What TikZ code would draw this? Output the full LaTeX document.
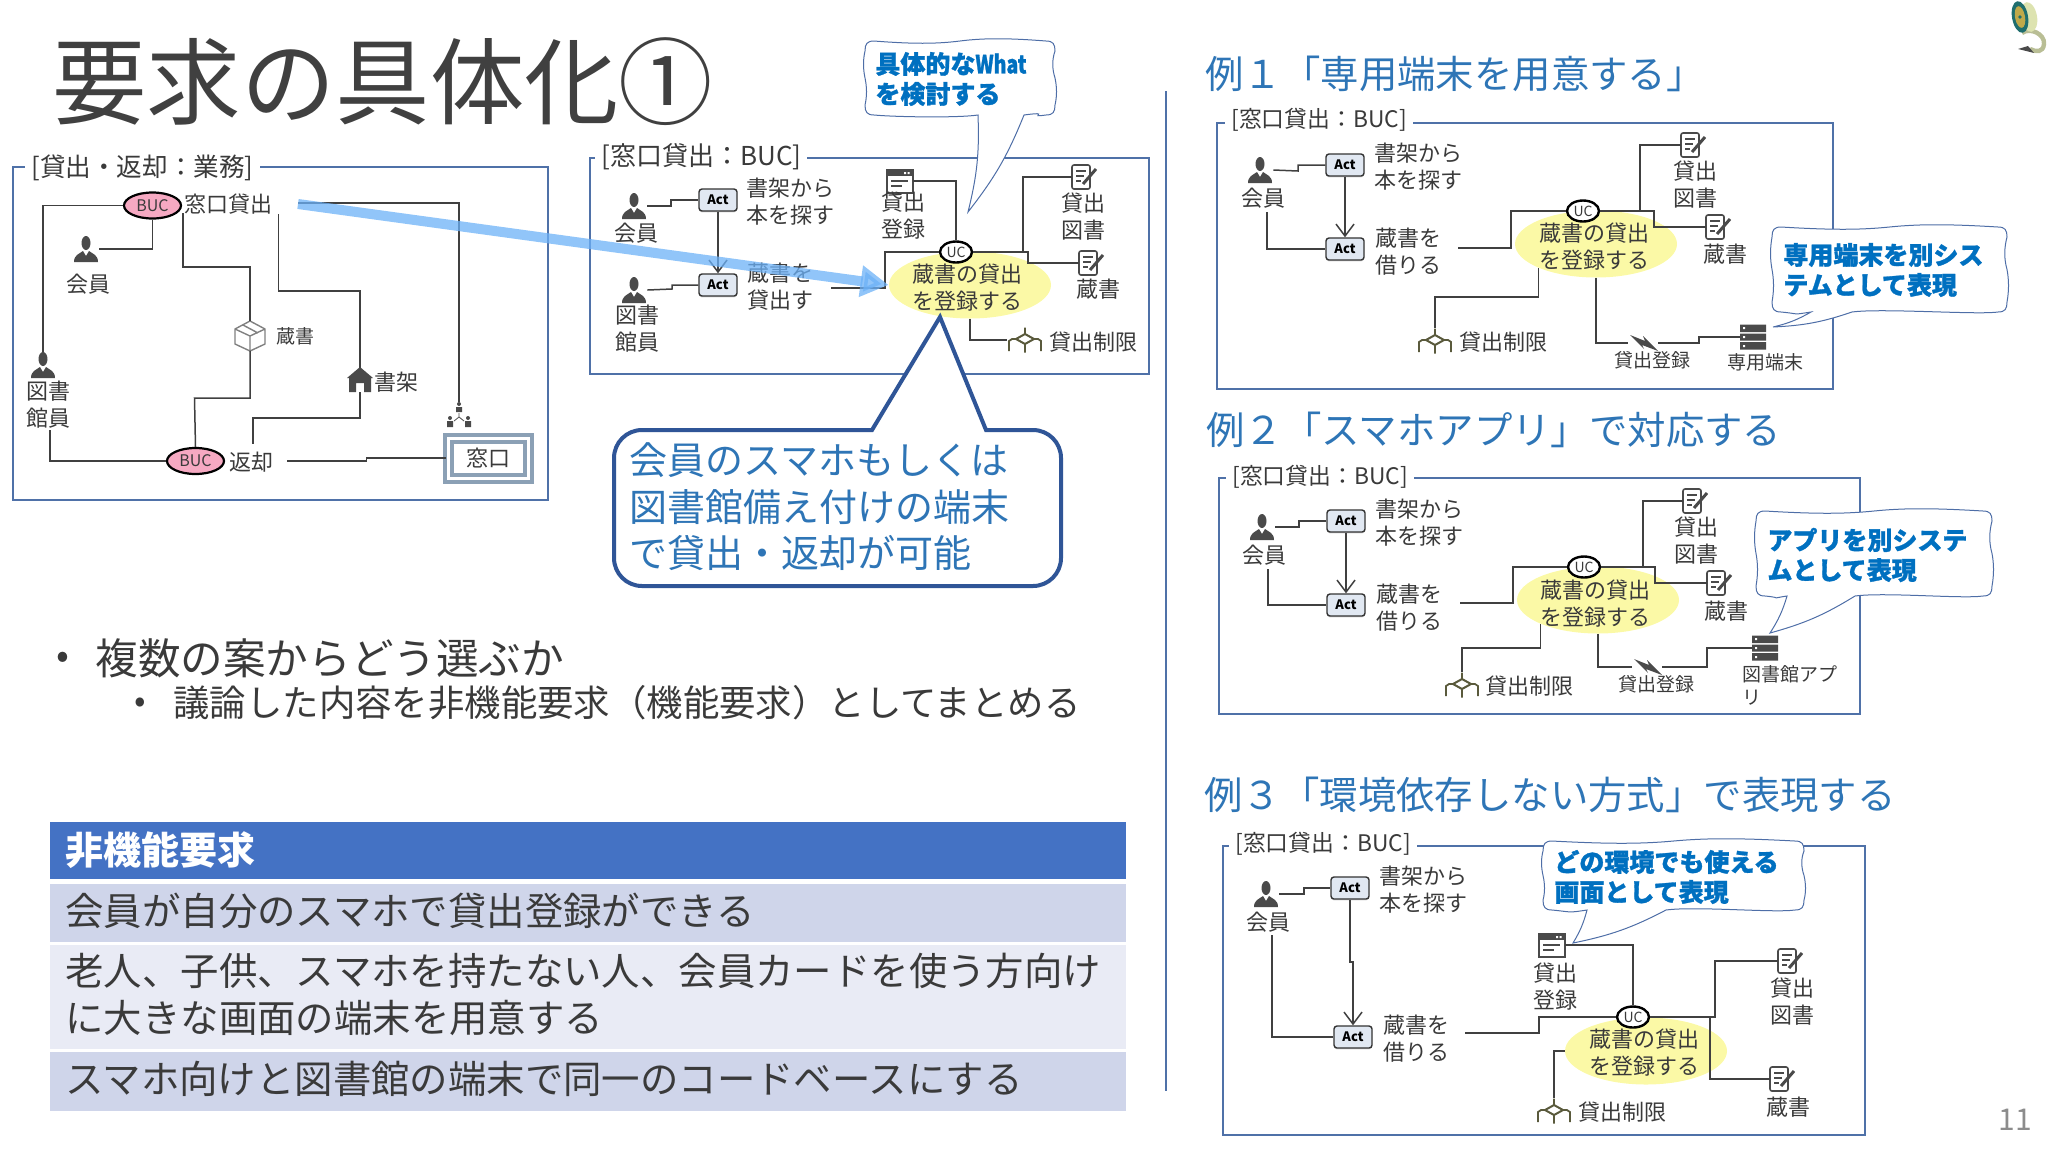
\documentclass[tikz,border=0pt]{standalone}
\usepackage{fontspec}
\usepackage{graphicx}
\setmainfont{Noto Sans CJK JP}
\newfontfamily\callfont[BoldFeatures={FakeBold=1.2}]{Noto Sans CJK JP}
\usetikzlibrary{arrows.meta,shapes.geometric,shadows}
\definecolor{framec}{HTML}{4F71A8}
\definecolor{connc}{HTML}{404040}
\definecolor{txtc}{HTML}{3A3A3A}
\definecolor{headc}{HTML}{2E75B6}
\definecolor{boldblue}{HTML}{0070C0}
\definecolor{darkblue}{HTML}{2F5597}
\definecolor{yelc}{HTML}{FBF9A6}
\definecolor{pinkc}{HTML}{F6A9C2}
\definecolor{actc}{HTML}{E1E8F2}
\definecolor{iconc}{HTML}{4A4A4A}
\definecolor{entc}{HTML}{5A5A3C}
\definecolor{arrowc}{HTML}{6CB1F7}
\definecolor{winc}{HTML}{8BA0B5}
\definecolor{rowa}{HTML}{CFD5EA}
\definecolor{rowb}{HTML}{E9EBF5}
\definecolor{rowh}{HTML}{4472C4}
\definecolor{reeld}{HTML}{1F6E6E}
\definecolor{reelg}{HTML}{C0A94A}
\definecolor{reelc}{HTML}{DDE3B0}
\definecolor{filmc}{HTML}{B9BE95}
\tikzset{
	frameline/.style={draw=framec,line width=0.7pt},
	frametitle/.style={fill=white,anchor=west,inner xsep=3pt,inner ysep=0pt,text=txtc},
	conn/.style={draw=connc,line width=0.75pt},
	flow/.style={conn,-{Straight Barb[length=6pt,width=9pt]}},
	lbl/.style={inner sep=0pt,align=center,text=txtc,font=\fontsize{11}{13.5}\selectfont},
	lblsm/.style={lbl,font=\fontsize{9.5}{11.5}\selectfont},
	actbox/.style={draw=black!80,fill=actc,rounded corners=1.5pt,line width=0.7pt,minimum width=19pt,minimum height=11pt,inner sep=0pt,font=\fontsize{6.5}{7}\selectfont\bfseries,drop shadow={shadow xshift=0pt,shadow yshift=-0.7pt,opacity=0.35}},
	ucbox/.style={ellipse,draw=black,fill=white,line width=1.2pt,minimum width=16pt,minimum height=10.5pt,inner sep=0pt,font=\fontsize{7}{8}\selectfont,text=txtc},
	bucbox/.style={ellipse,draw=black,fill=pinkc,line width=1.1pt,minimum width=28.5pt,minimum height=13pt,inner sep=0pt,font=\fontsize{8}{9}\selectfont,text=txtc},
	yelbox/.style={ellipse,fill=yelc,minimum width=81pt,minimum height=33.5pt,inner sep=0pt},
	heading/.style={anchor=west,inner sep=0pt,text=headc,font=\fontsize{19.2}{22}\selectfont},
	calltxt/.style={anchor=west,inner sep=0pt,align=left,text=boldblue,font=\fontsize{12.5}{15}\callfont\bfseries},
	callbd/.style={draw=darkblue!85,fill=white,line width=0.5pt},
	rowbox/.style={anchor=north west,inner sep=0pt,minimum width=538pt},
	rowtxt/.style={anchor=west,inner sep=0pt,xshift=7.5pt,yshift=1.3pt,align=left,text=txtc,font=\fontsize{19.2}{23.5}\selectfont},
	iconbox/.style={inner sep=0pt,minimum width=#1},
	personicon/.pic={
		\node[iconbox=13pt,minimum height=13pt] (-c) {};
		\fill[iconc] (0,-6) ellipse (4.5 and 7);
		\fill[iconc] (-12,13) .. controls (-12,6) and (-7,5) .. (-3,2) -- (0,7) -- (3,2) .. controls (7,5) and (12,6) .. (12,13) -- cycle;
	},
	docicon/.pic={
		\node[iconbox=13pt,minimum height=12pt] (-c) {};
		\draw[iconc,line width=0.8pt,rounded corners=1pt,fill=white] (-13,-12) rectangle (5,12);
		\draw[iconc,line width=0.7pt] (-9,-6) -- (1,-6) (-9,-1) -- (-1,-1) (-9,4) -- (-4,4);
		\draw[iconc,line width=1.5pt] (-2,7) -- (11,-8);
	},
	winicon/.pic={
		\node[iconbox=13pt,minimum height=11.5pt] (-c) {};
		\draw[iconc,line width=1pt,fill=white] (-13,-11.5) rectangle (13,11.5);
		\fill[iconc] (-13,-11.5) rectangle (13,-5);
		\fill[white] (4,-9) rectangle (6,-7) (7.5,-9) rectangle (9.5,-7);
		\draw[iconc,line width=0.7pt] (-9,0) -- (8,0) (-9,5) -- (2,5);
	},
	boxicon/.pic={
		\node[iconbox=15.5pt,minimum height=14.5pt] (-c) {};
		\draw[gray,line width=0.7pt,line join=round] (0,-15) -- (15,-7) -- (15,8) -- (0,15) -- (-15,8) -- (-15,-7) -- cycle (-15,-7) -- (0,0) -- (15,-7) (0,0) -- (0,15) (-7,-11) -- (8,-3);
	},
	houseicon/.pic={
		\node[iconbox=12.5pt,minimum height=12pt] (-c) {};
		\fill[iconc] (-13,-2) -- (0,-13) -- (13,-2) -- (11,-2) -- (11,12) -- (4,12) -- (4,3) -- (-4,3) -- (-4,12) -- (-11,12) -- (-11,-2) -- cycle;
	},
	orgicon/.pic={
		\node[iconbox=12.5pt,minimum height=12.5pt] (-c) {};
		\fill[iconc] (0,-11) circle (2) (-9,3) circle (2) (9,3) circle (2);
		\fill[iconc] (-3,-8) rectangle (3,-3) (-12,6) rectangle (-6,12) (6,6) rectangle (12,12);
		\draw[iconc,line width=0.4pt] (0,-2) -- (0,2) -- (-5,6) (0,2) -- (5,6);
	},
	entityicon/.pic={
		\node[iconbox=17.5pt,minimum height=12.5pt] (-c) {};
		\draw[entc,line width=0.9pt] (0,-12.5) -- (0,-5) (0,3) -- (0,12.5) (-8,-1) -- (-13,-1) -- (-16,1) -- (-16,11) (8,-1) -- (13,-1) -- (16,1) -- (16,11);
		\draw[entc,line width=1pt,fill=white] (-9,-1) -- (0,-6) -- (9,-1) -- (0,4) -- cycle;
	},
	lighticon/.pic={
		\node[iconbox=15pt,minimum height=6.5pt] (-c) {};
		\fill[iconc] (-13,-8) -- (2,-2) -- (0,-7) -- (15,8) -- (-1,2) -- (1,6) -- cycle;
	},
	servericon/.pic={
		\node[iconbox=13pt,minimum height=12.5pt] (-c) {};
		\fill[iconc] (-13,-12.5) rectangle (13,-5) (-13,-3.5) rectangle (13,3.5) (-13,5) rectangle (13,12.5);
		\fill[white] (-10,-10) rectangle (-8,-8) (-10,-1) rectangle (-8,1) (-10,8) rectangle (-8,10);
	},
}
\newcommand{\wavecall}[8]{%
	\pgfmathsetmacro{\xm}{(#1+#3)/2}
	\pgfmathsetmacro{\ym}{(#2+#4)/2}
	\pgfmathsetmacro{\xq}{(#3-#1)/4}
	\pgfmathsetmacro{\yq}{(#4-#2)/4}
	\draw[callbd] ({#1+9},#2) .. controls ({\xm-\xq},{#2+3}) and ({\xm-\xq/2},{#2+3}) .. (\xm,#2)
		.. controls ({\xm+\xq/2},{#2-3}) and ({\xm+\xq},{#2-3}) .. ({#3-9},#2)
		.. controls ({#3-2},#2) and (#3,{#2+3}) .. (#3,{#2+10})
		.. controls ({#3-3},{\ym-\yq}) and ({#3-3},{\ym-\yq/2}) .. (#3,\ym)
		.. controls ({#3+2},{\ym+\yq/2}) and ({#3+2},{\ym+\yq}) .. (#3,{#4-10})
		.. controls (#3,{#4-3}) and ({#3-2},#4) .. ({#3-9},#4)
		.. controls ({#3-30},{#4+3}) and ({#6+30},{#4-4}) .. (#6,#4)
		to[bend left=8] (#7,#8) to[bend right=8] (#5,#4)
		.. controls ({#5-20},{#4+3}) and ({#1+30},{#4+2}) .. ({#1+9},#4)
		.. controls ({#1+2},#4) and (#1,{#4-3}) .. (#1,{#4-10})
		.. controls ({#1+2},{\ym+\yq}) and ({#1+2},{\ym+\yq/2}) .. (#1,\ym)
		.. controls ({#1-2},{\ym-\yq/2}) and ({#1-2},{\ym-\yq}) .. (#1,{#2+10})
		.. controls (#1,{#2+3}) and ({#1+2},#2) .. ({#1+9},#2) -- cycle;
}
\begin{document}
\begin{tikzpicture}[x=0.5pt,y=-0.5pt]
	\useasboundingbox (0,0) rectangle (2048,1152);
	% title and corner mark
	\node[anchor=west,inner sep=0pt,text=black!75,font=\fontsize{47.2}{50}\selectfont] (title) at (52,82) {要求の具体化①};
	\draw[filmc,line width=2.2pt] (2022,33) .. controls (2030,27) and (2045,34) .. (2044,44) .. controls (2043,53) and (2036,52) .. (2030,49);
	\fill[iconc] (2018,49) -- (2028,46) -- (2034,53) -- cycle;
	\fill[reelc,rotate around={10:(2029,17)}] (2029,17) ellipse (8 and 15);
	\fill[reeld,rotate around={10:(2020,17)}] (2020,17) ellipse (8 and 16);
	\fill[reelg,rotate around={10:(2020,17)}] (2020,17) ellipse (5 and 11);
	\fill[reeld] (2020,17) circle (1.8);
	\draw[framec,line width=0.8pt] (1166,91) -- (1166,1091);

	% left panel
	\draw[frameline] (13,167) rectangle (548,500);
	\node[frametitle,font=\fontsize{12.8}{15}\selectfont] (ltitle) at (25,168) {[貸出・返却：業務]\hspace{2.5pt}};
	\node[bucbox] (lbuc1) at (152.5,205.5) {BUC};
	\node[lbl] (lbuc1t) at (228,204) {窓口貸出};
	\node[bucbox] (lbuc2) at (195.5,461) {BUC};
	\node[lbl] (lbuc2t) at (251,462) {返却};
	\pic (lp1) at (86,249) {personicon};
	\node[lbl] (lp1t) at (88,284) {会員};
	\pic (lp2) at (43,365) {personicon};
	\node[lbl] (lp2t) at (48,405) {図書\\館員};
	\pic (lbox) at (250,336) {boxicon};
	\node[lbl,font=\fontsize{9.5}{11}\selectfont] (lboxt) at (295,336) {蔵書};
	\pic (lhouse) at (360,380) {houseicon};
	\node[lbl] (lhouset) at (396,382) {書架};
	\pic (lorg) at (459,415) {orgicon};
	\node[draw=winc,line width=2pt,double=white,double distance=1.5pt,fill=white,minimum width=40pt,minimum height=20pt,inner sep=0pt,font=\fontsize{11}{13}\selectfont,text=txtc] (lwin) at (488,458) {窓口};
	\coordinate (lwa) at (183,213);
	\coordinate (lwb) at (278.5,214);
	\coordinate (lwc) at (298,203);
	\coordinate (lbk) at (253,444);
	\coordinate (lbm) at (287,461);
	\coordinate (lp2b) at (50,430);
	\draw[conn] (lp1-c.east) -| (lbuc1.south);
	\draw[conn] (lbuc1.west) -| (lp2-c.north);
	\draw[conn] (lp2b) |- (lbuc2.west);
	\draw[conn] (lwa) |- (250,267) -- (lbox-c.north);
	\draw[conn] (lbox-c.south) |- (194.5,398) -- (lbuc2.north);
	\draw[conn] (lwb) |- (360,291) -- (lhouse-c.north);
	\draw[conn] (lhouse-c.south) |- (253,418) -- (lbk);
	\draw[conn] (lwc) -| (lorg-c.north);
	\draw[conn] (lbm) -- (366.5,461) |- (lwin.west);

	% middle panel
	\draw[frameline] (590,158) rectangle (1149,374);
	\node[frametitle,font=\fontsize{13}{15}\selectfont] (mtitle) at (595,157) {[窓口貸出：BUC]};
	\pic (mp1) at (634,206) {personicon};
	\node[lbl] (mp1t) at (636,233) {会員};
	\pic (mp2) at (634,290) {personicon};
	\node[lbl] (mp2t) at (637,329) {図書\\館員};
	\node[actbox] (ma1) at (718,200) {Act};
	\node[actbox] (ma2) at (718,285) {Act};
	\node[lbl,anchor=west,align=left] (ma1t) at (746,202) {書架から\\本を探す};
	\node[lbl,anchor=west,align=left] (ma2t) at (747,287) {蔵書を\\貸出す};
	\node[yelbox] (myel) at (970,285) {};
	\node[lbl] (myelt) at (967,288) {蔵書の貸出\\を登録する};
	\node[ucbox] (muc) at (956,252) {UC};
	\pic (mwin) at (900,181) {winicon};
	\node[lbl] (mwint) at (903,216) {貸出\\登録};
	\pic (mdoc1) at (1085,177) {docicon};
	\node[lbl] (mdoc1t) at (1083,217) {貸出\\図書};
	\pic (mdoc2) at (1092,263) {docicon};
	\node[lbl] (mdoc2t) at (1098,289) {蔵書};
	\pic (ment) at (1025,340) {entityicon};
	\node[lbl] (mentt) at (1093,342) {貸出制限};
	\coordinate (mt2e) at (831,288);
	\coordinate (mbr) at (1023,252);
	\draw[conn] (mp1-c.east) -- (671,206) |- (ma1.west);
	\draw[conn] (mp2-c.east) -- (672,289) |- (ma2.west);
	\draw[flow] (ma1.south) -- (ma2.north);
	\draw[conn] (mt2e) -- (885,288) |- (muc.west);
	\draw[conn] (mwin-c.east) -| (muc.north);
	\draw[conn] (muc.east) -- (1028,252) |- (mdoc2-c.west);
	\draw[conn] (mbr) |- (mdoc1-c.west);
	\draw[conn] (myel.south) |- (ment-c.west);

	% big arrow between the panels
	\coordinate (arrs) at (298,204);
	\draw[draw=arrowc,opacity=0.75,line width=5pt,-{Triangle[length=14pt,width=15pt]}] (arrs) -- (myel.west);

	% callouts of the middle panel
	\wavecall{865}{41}{1055}{115}{978}{1024}{968}{212}
	\node[calltxt] (mcallt) at (875,79) {具体的な\scalebox{0.78}[1]{What}\\を検討する};
	\draw[draw=darkblue,fill=white,line width=2pt] (872,430) [rounded corners=14pt] -- (614,430) -- (614,586) -- (1061,586) -- (1061,430) [sharp corners] -- (986,430) -- (940,317) -- cycle;
	\node[inner sep=0pt,anchor=west,align=left,text=headc,font=\fontsize{19}{23.25}\selectfont] (mbigt) at (629,507) {会員のスマホもしくは\\図書館備え付けの端末\\で貸出・返却が可能};

	% bullets
	\node[inner sep=0pt,text=txtc,font=\fontsize{19}{21}\selectfont] (bul1) at (63,660) {•};
	\node[anchor=west,inner sep=0pt,text=txtc,font=\fontsize{21.3}{24}\selectfont] (bul1t) at (95,658) {複数の案からどう選ぶか};
	\node[inner sep=0pt,text=txtc,font=\fontsize{17}{19}\selectfont] (bul2) at (140,705) {•};
	\node[anchor=west,inner sep=0pt,text=txtc,font=\fontsize{18.2}{22}\selectfont] (bul2t) at (173,703) {議論した内容を非機能要求（機能要求）としてまとめる};

	% table
	\node[rowbox,fill=rowh,minimum height=28.5pt] (th) at (50,822) {};
	\node[rowbox,fill=rowa,minimum height=29pt] (tr1) at (50,884) {};
	\node[rowbox,fill=rowb,minimum height=52pt] (tr2) at (50,945) {};
	\node[rowbox,fill=rowa,minimum height=29.5pt] (tr3) at (50,1052) {};
	\node[rowtxt,yshift=-0.7pt,text=white,font=\fontsize{19}{23}\selectfont\bfseries] (tht) at (th.west) {非機能要求};
	\node[rowtxt] (tr1t) at (tr1.west) {会員が自分のスマホで貸出登録ができる};
	\node[rowtxt] (tr2t) at (tr2.west) {老人、子供、スマホを持たない人、会員カードを使う方向け\\に大きな画面の端末を用意する};
	\node[rowtxt] (tr3t) at (tr3.west) {スマホ向けと図書館の端末で同一のコードベースにする};

	% example 1
	\node[heading] (ahead) at (1205,74) {例１「専用端末を用意する」};
	\draw[frameline] (1217,123) rectangle (1833,389);
	\node[frametitle,font=\fontsize{11.4}{13}\selectfont] (atitle) at (1225,120) {[窓口貸出：BUC]\hspace{4pt}};
	\pic (ap1) at (1260,170) {personicon};
	\node[lbl] (ap1t) at (1263,198) {会員};
	\node[actbox] (aa1) at (1345,165) {Act};
	\node[actbox] (aa2) at (1345,249) {Act};
	\node[lbl,anchor=west,align=left] (aa1t) at (1374,167) {書架から\\本を探す};
	\node[lbl,anchor=west,align=left] (aa2t) at (1375,252) {蔵書を\\借りる};
	\node[yelbox] (ayel) at (1596,244) {};
	\node[lbl] (ayelt) at (1594,247) {蔵書の貸出\\を登録する};
	\node[ucbox] (auc) at (1583,211) {UC};
	\pic (adoc1) at (1694,145) {docicon};
	\node[lbl] (adoc1t) at (1695,185) {貸出\\図書};
	\pic (adoc2) at (1719,227) {docicon};
	\node[lbl] (adoc2t) at (1725,254) {蔵書};
	\pic (aent) at (1435,341) {entityicon};
	\node[lbl] (aentt) at (1503,342) {貸出制限};
	\pic (alt) at (1643,343) {lighticon};
	\node[lblsm] (altt) at (1652,360) {貸出登録};
	\pic (asrv) at (1753,337) {servericon};
	\node[lblsm] (asrvt) at (1765,362) {専用端末};
	\coordinate (ap1b) at (1267,212);
	\coordinate (at2e) at (1458,248);
	\coordinate (abr) at (1640,211);
	\draw[conn] (ap1-c.east) -- (1298,171) |- (aa1.west);
	\draw[flow] (aa1.south) -- (aa2.north);
	\draw[conn] (ap1b) |- (aa2.west);
	\draw[conn] (at2e) -- (1511,248) |- (auc.west);
	\draw[conn] (auc.east) -- (1654,211) |- (adoc2-c.west);
	\draw[conn] (abr) |- (adoc1-c.west);
	\draw[conn] (ayel.south west) |- (1435,297) -- (aent-c.north);
	\draw[conn] (ayel.south) |- (alt-c.west);
	\draw[conn] (alt-c.east) -- (1699,343) |- (asrv-c.west);
	\wavecall{1772}{227}{2007}{312}{1811}{1852}{1773}{327}
	\node[calltxt] (acallt) at (1783,270) {専用端末を別シス\\テムとして表現};

	% example 2
	\node[heading] (bhead) at (1206,430) {例２「スマホアプリ」で対応する};
	\draw[frameline] (1219,478) rectangle (1860,714);
	\node[frametitle,font=\fontsize{11.4}{13}\selectfont] (btitle) at (1226,477) {[窓口貸出：BUC]\hspace{4pt}};
	\pic (bp1) at (1262,527) {personicon};
	\node[lbl] (bp1t) at (1264,555) {会員};
	\node[actbox] (ba1) at (1346,521) {Act};
	\node[actbox] (ba2) at (1346,605) {Act};
	\node[lbl,anchor=west,align=left] (ba1t) at (1375,523) {書架から\\本を探す};
	\node[lbl,anchor=west,align=left] (ba2t) at (1376,608) {蔵書を\\借りる};
	\node[yelbox] (byel) at (1598,600) {};
	\node[lbl] (byelt) at (1595,604) {蔵書の貸出\\を登録する};
	\node[ucbox] (buc) at (1584,567) {UC};
	\pic (bdoc1) at (1696,501) {docicon};
	\node[lbl] (bdoc1t) at (1696,541) {貸出\\図書};
	\pic (bdoc2) at (1720,583) {docicon};
	\node[lbl] (bdoc2t) at (1726,611) {蔵書};
	\pic (bent) at (1462,685) {entityicon};
	\node[lbl] (bentt) at (1529,686) {貸出制限};
	\pic (blt) at (1647,667) {lighticon};
	\node[lblsm] (bltt) at (1656,684) {貸出登録};
	\pic (bsrv) at (1765,648) {servericon};
	\node[lblsm,anchor=west,align=left] (bsrvt) at (1742,685) {図書館アプ\\リ};
	\coordinate (bp1b) at (1268,569);
	\coordinate (bt2e) at (1460,603);
	\coordinate (bbr) at (1643,567);
	\draw[conn] (bp1-c.east) -- (1299,527) |- (ba1.west);
	\draw[flow] (ba1.south) -- (ba2.north);
	\draw[conn] (bp1b) |- (ba2.west);
	\draw[conn] (bt2e) -- (1513,603) |- (buc.west);
	\draw[conn] (buc.east) -- (1655,567) |- (bdoc2-c.west);
	\draw[conn] (bbr) |- (bdoc1-c.west);
	\draw[conn] (byel.south west) |- (1462,648) -- (bent-c.north);
	\draw[conn] (byel.south) |- (blt-c.west);
	\draw[conn] (blt-c.east) -- (1707,667) |- (bsrv-c.west);
	\wavecall{1756}{511}{1992}{596}{1787}{1855}{1770}{633}
	\node[calltxt] (bcallt) at (1767,555) {アプリを別システ\\ムとして表現};

	% example 3
	\node[heading] (chead) at (1204,795) {例３「環境依存しない方式」で表現する};
	\draw[frameline] (1223,846) rectangle (1865,1135);
	\node[frametitle,font=\fontsize{11.4}{13}\selectfont] (ctitle) at (1229,844) {[窓口貸出：BUC]\hspace{4pt}};
	\pic (cp1) at (1266,894) {personicon};
	\node[lbl] (cp1t) at (1268,922) {会員};
	\node[actbox] (ca1) at (1350,888) {Act};
	\node[actbox] (ca2) at (1353,1037) {Act};
	\node[lbl,anchor=west,align=left] (ca1t) at (1379,890) {書架から\\本を探す};
	\node[lbl,anchor=west,align=left] (ca2t) at (1383,1039) {蔵書を\\借りる};
	\node[yelbox] (cyel) at (1646,1051) {};
	\node[lbl] (cyelt) at (1644,1053) {蔵書の貸出\\を登録する};
	\node[ucbox] (cuc) at (1633,1017) {UC};
	\pic (cwin) at (1552,945) {winicon};
	\node[lbl] (cwint) at (1555,987) {貸出\\登録};
	\pic (cdoc1) at (1791,961) {docicon};
	\node[lbl] (cdoc1t) at (1792,1002) {貸出\\図書};
	\pic (cdoc2) at (1783,1079) {docicon};
	\node[lbl] (cdoc2t) at (1788,1107) {蔵書};
	\pic (cent) at (1554,1111) {entityicon};
	\node[lbl] (centt) at (1622,1112) {貸出制限};
	\coordinate (cp1b) at (1272,935);
	\coordinate (ct2e) at (1465,1033);
	\coordinate (cbr) at (1710,1017);
	\draw[conn] (cp1-c.east) -- (1304,894) |- (ca1.west);
	\draw[flow] (ca1.south) -- (1350,962) -- (1353,962) -- (ca2.north);
	\draw[conn] (cp1b) |- (ca2.west);
	\draw[conn] (ct2e) -- (1539,1033) |- (cuc.west);
	\draw[conn] (cwin-c.east) -| (cuc.north);
	\draw[conn] (cuc.east) -- (1715,1017) |- (cdoc1-c.west);
	\draw[conn] (cbr) |- (cdoc2-c.west);
	\draw[conn] (cyel.west) -| (cent-c.north);
	\wavecall{1543}{841}{1804}{910}{1587}{1666}{1573}{943}
	\node[calltxt] (ccallt) at (1554,877) {どの環境でも使える\\画面として表現};

	\node[inner sep=0pt,text=black!45,font=\fontsize{15}{17}\selectfont] (pageno) at (2015,1120) {11};
\end{tikzpicture}
\end{document}
